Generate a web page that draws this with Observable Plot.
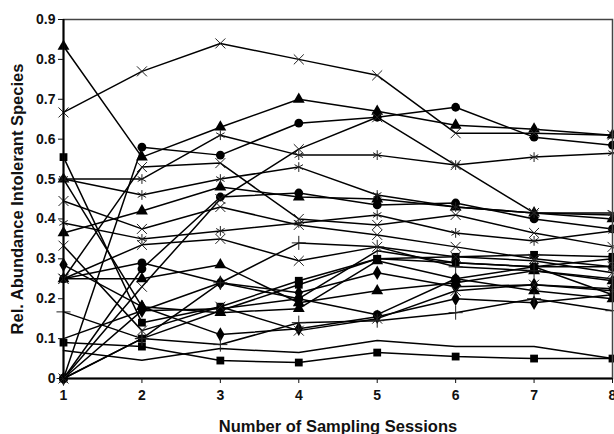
<!DOCTYPE html>
<html><head><meta charset="utf-8">
<script src="https://cdn.jsdelivr.net/npm/d3@7"></script>
<script src="https://cdn.jsdelivr.net/npm/@observablehq/plot@0.6"></script>
<style>
html,body{margin:0;padding:0;background:#fff;}
#chart svg{font-family:"Liberation Sans",Arial,sans-serif;}
</style></head>
<body><div id="chart"></div>
<script>
const sessions = [1, 2, 3, 4, 5, 6, 7, 8];
const yTicks = [0, 0.1, 0.2, 0.3, 0.4, 0.5, 0.6, 0.7, 0.8, 0.9];
const yTickLabels = ["0", "0.1", "0.2", "0.3", "0.4", "0.5", "0.6", "0.7", "0.8", "0.9"];
const xTitle = "Number of Sampling Sessions";
const yTitle = "Rel. Abundance Intolerant Species";

const s01 = [0.667, 0.77, 0.84, 0.80, 0.76, 0.615, 0.615, 0.61];
const s02 = [0.833, 0.555, 0.63, 0.70, 0.67, 0.635, 0.625, 0.61];
const s03 = [0, 0.58, 0.56, 0.64, 0.655, 0.68, 0.605, 0.585];
const s04 = [0.5, 0.5, 0.61, 0.56, 0.56, 0.535, 0.555, 0.565];
const s05 = [0.25, 0.53, 0.54, 0.40, 0.385, 0.41, 0.365, 0.33];
const s06 = [0, 0.23, 0.45, 0.575, 0.655, 0.535, 0.415, 0.41];
const s07 = [0.5, 0.46, 0.5, 0.53, 0.46, 0.43, 0.415, 0.415];
const s08 = [0.365, 0.42, 0.48, 0.455, 0.45, 0.43, 0.415, 0.40];
const s09 = [0, 0.275, 0.455, 0.465, 0.435, 0.44, 0.40, 0.375];
const s10 = [0.445, 0.375, 0.43, 0.385, 0.36, 0.33, 0.30, 0.28];
const s11 = [0.39, 0.35, 0.37, 0.39, 0.41, 0.365, 0.345, 0.37];
const s12 = [0.25, 0.335, 0.35, 0.295, 0.33, 0.305, 0.295, 0.265];
const s13 = [0.25, 0.25, 0.285, 0.19, 0.22, 0.24, 0.27, 0.245];
const s14 = [0.285, 0.18, 0.11, 0.125, 0.155, 0.20, 0.19, 0.21];
const s15 = [0.5, 0.18, 0.165, 0.175, 0.295, 0.25, 0.22, 0.20];
const s16 = [0.555, 0.14, 0.18, 0.245, 0.30, 0.305, 0.31, 0.305];
const s17 = [0.09, 0.08, 0.045, 0.04, 0.065, 0.055, 0.05, 0.05];
const s18 = [0.07, 0.046, 0.075, 0.065, 0.095, 0.08, 0.08, 0.05];
const s19 = [0.167, 0.10, 0.085, 0.14, 0.145, 0.165, 0.20, 0.17];
const s20 = [0, 0.17, 0.24, 0.215, 0.265, 0.23, 0.235, 0.225];
const s21 = [0.1, 0.17, 0.175, 0.20, 0.32, 0.29, 0.28, 0.21];
const s22 = [0, 0.10, 0.24, 0.34, 0.33, 0.28, 0.27, 0.25];
const s23 = [0, 0.10, 0.17, 0.235, 0.30, 0.29, 0.28, 0.30];
const s24 = [0.333, 0.12, 0.18, 0.12, 0.15, 0.22, 0.235, 0.22];
const s25 = [0.25, 0.29, 0.24, 0.20, 0.16, 0.25, 0.28, 0.28];

const allSeries = [s01,s02,s03,s04,s05,s06,s07,s08,s09,s10,s11,s12,s13,s14,s15,s16,s17,s18,s19,s20,s21,s22,s23,s24,s25];
const markers = ["times","triangle","circle","asterisk","times","times","asterisk","triangle","circle","times",
                 "asterisk","times","triangle","diamond","triangle","square","square","none","plus","diamond",
                 "none","plus","square","times","circle"];

const rows = [];
allSeries.forEach((vals, i) => vals.forEach((v, j) => rows.push({id: i, x: sessions[j], y: v, m: markers[i]})));
const filledRows = rows.filter(d => ["circle","square","triangle","diamond"].includes(d.m));
const strokeRows = rows.filter(d => ["times","asterisk","plus"].includes(d.m));

const chart = Plot.plot({
  width: 614, height: 434,
  marginLeft: 63, marginRight: 2, marginTop: 19, marginBottom: 56,
  style: {fontFamily: '"Liberation Sans", Arial, sans-serif', fontSize: "14px", fontWeight: "bold", color: "#111"},
  x: {domain: [1, 8], label: null},
  y: {domain: [0, 0.9], label: null},
  symbol: {domain: ["circle","square","triangle","diamond","times","asterisk","plus"],
           range: ["circle","square","triangle2","diamond2","times","asterisk","plus"]},
  marks: [
    Plot.line(rows, {x: "x", y: "y", z: "id", stroke: "#000", strokeWidth: 1.5, curve: "linear"}),
    Plot.dot(filledRows, {x: "x", y: "y", symbol: "m", fill: "#000", stroke: "none", r: 4.4}),
    Plot.dot(strokeRows, {x: "x", y: "y", symbol: "m", stroke: "#222", strokeWidth: 1, fill: "none", r: 4.6}),
    Plot.frame({stroke: "#444", strokeWidth: 1.5}),
    Plot.ruleX([1], {stroke: "#000", strokeWidth: 2}),
    Plot.ruleY([0], {stroke: "#000", strokeWidth: 2}),
    Plot.axisX({ticks: sessions, tickFormat: d => String(d), tickSize: 5, tickPadding: 7, fontSize: 14, fontWeight: "bold", label: null}),
    Plot.axisY({ticks: yTicks, tickFormat: (d, i) => yTickLabels[i], tickSize: 5, tickPadding: 3, fontSize: 14, fontWeight: "bold", label: null}),
    Plot.text([xTitle], {frameAnchor: "bottom", dy: 53, fontSize: 16.5, fontWeight: "bold", fill: "#111"}),
    Plot.text([yTitle], {frameAnchor: "left", dx: -46, rotate: -90, textAnchor: "middle", lineAnchor: "middle", fontSize: 16.5, fontWeight: "bold", fill: "#111"})
  ]
});
document.getElementById("chart").appendChild(chart);
</script></body></html>
